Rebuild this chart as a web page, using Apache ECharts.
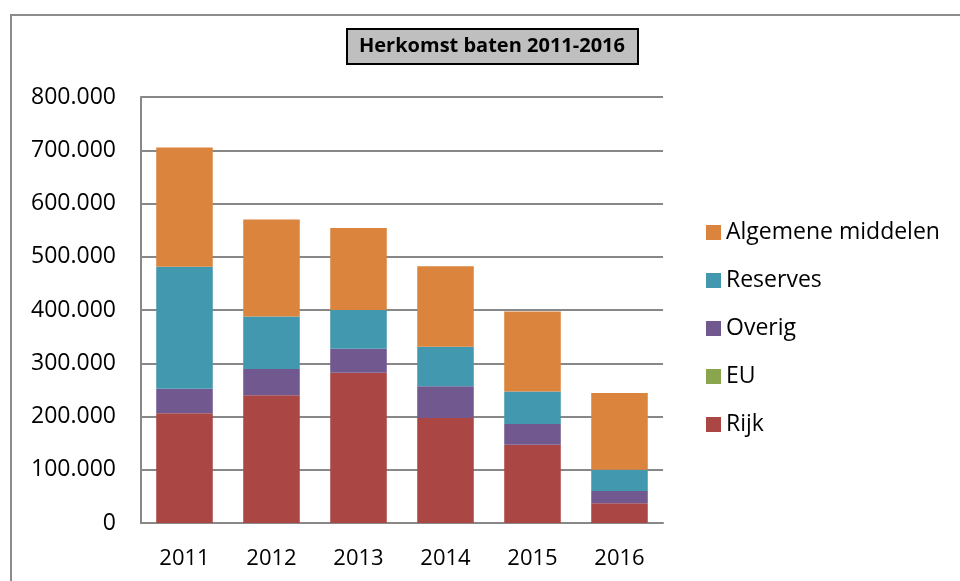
<!DOCTYPE html>
<html>
<head>
<meta charset="utf-8">
<script src="https://cdn.jsdelivr.net/npm/echarts@6/dist/echarts.min.js"></script>
<style>
  html, body { margin: 0; padding: 0; background: #fff; }
  #main { width: 960px; height: 581px; }
</style>
</head>
<body>
<div id="main"></div>
<script>
// jaren
const years = ['2011', '2012', '2013', '2014', '2015', '2016']
// baten per bron (euro)
const rijk = [206000, 240000, 282000, 197000, 147000, 37000]
const eu = [0, 0, 0, 0, 0, 0]
const overig = [46000, 49000, 45000, 60000, 39000, 23000]
const reserves = [229000, 99000, 73000, 74000, 61000, 40000]
const algemeen = [224000, 182000, 154000, 151000, 150000, 144000]

const names = ['Rijk', 'EU', 'Overig', 'Reserves', 'Algemene middelen']
const colors = ['#AA4643', '#89A54E', '#71588F', '#4198AF', '#DB843D']

const font = '"Open Sans", "Noto Sans", sans-serif'
const gridColor = '#888888'

// 800000 -> 800.000
function fmt(v) {
  return String(v).replace(/\B(?=(\d{3})+(?!\d))/g, '.')
}

function bar(name, data, i) {
  return {
    name: name,
    type: 'bar',
    stack: 'baten',
    barWidth: '65%',
    data: data,
    itemStyle: { color: colors[i] }
  }
}

let myChart = echarts.init(document.getElementById('main'))
let option = {
  animation: false,
  textStyle: { fontFamily: font },
  title: {
    text: 'Herkomst baten 2011-2016',
    left: 347,
    top: 29,
    padding: [7, 13, 8, 12],
    backgroundColor: '#bfbfbf',
    borderColor: '#000',
    borderWidth: 2,
    textStyle: { fontFamily: font, fontSize: 20, fontWeight: 'bold', color: '#000' }
  },
  // rand links en boven (rechts en onder vallen buiten beeld)
  graphic: [{
    type: 'polyline',
    shape: { points: [[11, 600], [11, 15], [980, 15]] },
    style: { fill: null, stroke: '#8c8c8c', lineWidth: 2 },
    silent: true
  }],
  legend: {
    data: ['Algemene middelen', 'Reserves', 'Overig', 'EU', 'Rijk'],
    orient: 'vertical',
    left: 706,
    top: 221,
    padding: 0,
    itemWidth: 15,
    itemHeight: 15,
    itemGap: 25,
    icon: 'rect',
    textStyle: { fontFamily: font, fontSize: 23, color: '#000' }
  },
  grid: {
    left: 141,
    right: 297,
    top: 97,
    bottom: 58,
    containLabel: false
  },
  xAxis: {
    type: 'category',
    data: years,
    axisLine: { lineStyle: { color: gridColor, width: 2 } },
    axisTick: { show: false },
    axisLabel: { fontFamily: font, fontSize: 22, color: '#000', margin: 25 }
  },
  yAxis: {
    type: 'value',
    min: 0,
    max: 800000,
    interval: 100000,
    axisLine: { show: true, lineStyle: { color: gridColor, width: 2 } },
    axisTick: { show: false },
    splitLine: { lineStyle: { color: gridColor, width: 2 } },
    axisLabel: { fontFamily: font, fontSize: 23, color: '#000', margin: 25, formatter: fmt }
  },
  series: [
    bar(names[0], rijk, 0),
    bar(names[1], eu, 1),
    bar(names[2], overig, 2),
    bar(names[3], reserves, 3),
    bar(names[4], algemeen, 4)
  ]
}

option && myChart.setOption(option)
</script>
</body>
</html>
